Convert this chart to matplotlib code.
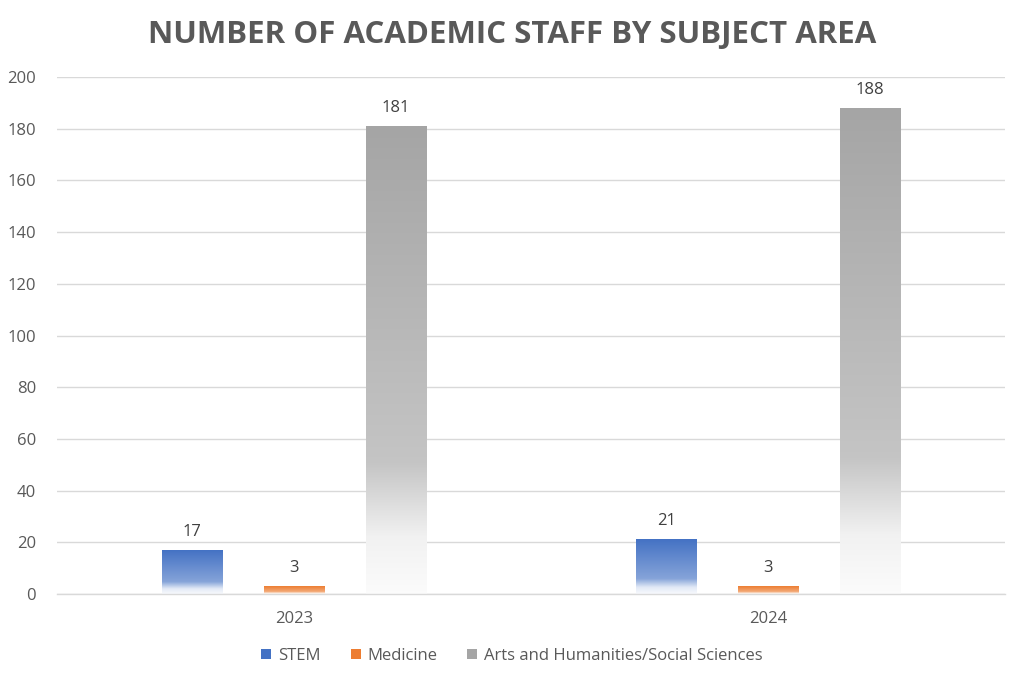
import numpy as np
import matplotlib
matplotlib.use("Agg")
import matplotlib.pyplot as plt
from matplotlib.patches import Patch
from matplotlib.colors import to_rgb

plt.rcParams['font.family'] = ['Open Sans', 'DejaVu Sans']

years = ["2023", "2024"]
series = ["STEM", "Medicine", "Arts and Humanities/Social Sciences"]
stem = [17, 21]
medicine = [3, 3]
arts = [181, 188]
colors = ["#4472C4", "#ED7D31", "#A5A5A5"]
values = [stem, medicine, arts]

fig = plt.figure(figsize=(10.24, 6.82), dpi=100)
ax = fig.add_axes([57/1024, 1-594/682, 948/1024, 517/682])

def gradient_img(color):
    base = np.array(to_rgb(color))
    white = np.ones(3)
    stops = [(0.0, 0.0), (0.72, 0.35), (0.88, 0.85), (1.0, 0.96)]
    t = np.linspace(0, 1, 256)
    ts = [s[0] for s in stops]; ws = [s[1] for s in stops]
    w = np.interp(t, ts, ws)[:, None]
    img = base[None, :] * (1 - w) + white[None, :] * w
    return img[:, None, :]

x = np.arange(len(years))
bw = 0.1266
offs = [-0.215, 0.0, 0.215]
for vals, col, off in zip(values, colors, offs):
    img = gradient_img(col)
    for xi, v in zip(x, vals):
        x0, x1 = xi + off - bw/2, xi + off + bw/2
        ax.imshow(img, extent=[x0, x1, 0, v], aspect='auto', origin='upper',
                  zorder=2, interpolation='bilinear')
        ax.text(xi + off, v + 4, str(v), ha='center', va='bottom',
                fontsize=12, color='#404040')

ax.set_xlim(-0.5, 1.5)
ax.set_ylim(0, 200)
ax.set_yticks(range(0, 201, 20))
ax.set_xticks(x)
ax.set_xticklabels(years)
ax.tick_params(axis='both', length=0, labelsize=12, colors='#595959')
ax.tick_params(axis='y', pad=15)
ax.tick_params(axis='x', pad=12)
ax.grid(axis='y', color='#D9D9D9', linewidth=1, zorder=0)
ax.set_axisbelow(True)
for s in ['top', 'right', 'left']:
    ax.spines[s].set_visible(False)
ax.spines['bottom'].set_color('#D9D9D9')
ax.spines['bottom'].set_linewidth(1)

fig.text(0.5, 1-35/682, "NUMBER OF ACADEMIC STAFF BY SUBJECT AREA", ha='center', va='center',
         fontsize=22.5, fontweight='bold', color='#595959')

handles = [Patch(facecolor=c, edgecolor='none') for c in colors]
fig.legend(handles, series, loc='center', bbox_to_anchor=(0.5, 1-656/682), ncol=3,
           frameon=False, fontsize=12, labelcolor='#595959', handlelength=0.6,
           handleheight=0.6, handletextpad=0.4, columnspacing=1.8)

fig.savefig("out.png", dpi=100)
